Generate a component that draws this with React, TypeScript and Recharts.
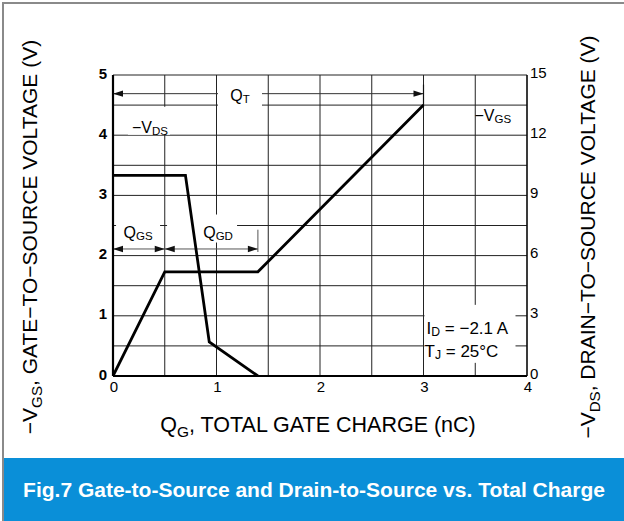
import React from 'react';
import { LineChart, Line, XAxis, YAxis, CartesianGrid, ReferenceDot } from 'recharts';

// ---- axis ticks ----
const chargeTicks = [0, 0.5, 1, 1.5, 2, 2.5, 3, 3.5, 4];
const vgsTicks = [0, 0.5, 1, 1.5, 2, 2.5, 3, 3.5, 4, 4.5, 5];
const vdsTicks = [0, 3, 6, 9, 12, 15];

// ---- series: -VGS (left axis) ----
const vgsCharge = [0, 0.5, 1.4, 3.0];
const vgsVolts = [0, 1.73, 1.73, 4.5];

// ---- series: -VDS (right axis) ----
const vdsCharge = [0, 0.7, 0.93, 1.4];
const vdsVolts = [10, 10, 1.7, 0];

// ---- annotation dimension lines (left-axis units) ----
const qtArrowCharge = [0, 3];
const qtArrowVolts = [4.69, 4.69];
const qtTickCharge = [3, 3];
const qtTickVolts = [4.84, 4.5];
const qgsArrowCharge = [0, 0.5];
const qgsArrowVolts = [2.11, 2.11];
const qgdArrowCharge = [0.5, 1.4];
const qgdArrowVolts = [2.11, 2.11];
const qgdTickCharge = [1.4, 1.4];
const qgdTickVolts = [2.43, 2.06];

const zip = (qs: number[], vs: number[]) => qs.map((q, i) => ({ q, v: vs[i] }));

const vgsData = zip(vgsCharge, vgsVolts);
const vdsData = zip(vdsCharge, vdsVolts);
const qtArrow = zip(qtArrowCharge, qtArrowVolts);
const qtTick = zip(qtTickCharge, qtTickVolts);
const qgsArrow = zip(qgsArrowCharge, qgsArrowVolts);
const qgdArrow = zip(qgdArrowCharge, qgdArrowVolts);
const qgdTick = zip(qgdTickCharge, qgdTickVolts);

const FONT = '"Liberation Sans", Arial, Helvetica, sans-serif';

const arrowDot = (dirs: string[]) => (props: any) => {
  const { cx, cy, index } = props;
  const d = dirs[index];
  if (!d || cx == null) return <g key={`a${index}`} />;
  const L = 10, H = 3.2;
  const path =
    d === 'left'
      ? `M${cx},${cy} L${cx + L},${cy - H} L${cx + L},${cy + H} Z`
      : `M${cx},${cy} L${cx - L},${cy - H} L${cx - L},${cy + H} Z`;
  return <path key={`a${index}`} d={path} fill="#111" stroke="none" />;
};

type Part = { t: string; sub?: boolean };

const renderParts = (parts: Part[], size: number) => {
  const out: React.ReactNode[] = [];
  let shifted = false;
  parts.forEach((p, i) => {
    if (p.sub) {
      out.push(
        <tspan key={i} fontSize={size * 0.72} dy={shifted ? 0 : size * 0.25}>
          {p.t}
        </tspan>
      );
      shifted = true;
    } else {
      out.push(
        <tspan key={i} fontSize={size} dy={shifted ? -size * 0.25 : 0}>
          {p.t}
        </tspan>
      );
      shifted = false;
    }
  });
  return out;
};

const boxLabel =
  (parts: Part[], box: { x: number; y: number; w: number; h: number } | null, size = 16) =>
  (props: any) => {
    const { cx, cy } = props;
    return (
      <g>
        {box && <rect x={cx + box.x} y={cy + box.y} width={box.w} height={box.h} fill="#fff" />}
        <text x={cx} y={cy} textAnchor="middle" dominantBaseline="central" fontFamily={FONT} fill="#000" fontSize={size}>
          {renderParts(parts, size)}
        </text>
      </g>
    );
  };

const condLabel = (props: any) => {
  const { cx, cy } = props;
  const s = 17;
  return (
    <g>
      <rect x={cx + 1} y={cy - 23} width={91} height={58} fill="#fff" />
      <text x={cx + 3} y={cy} dominantBaseline="central" fontFamily={FONT} fill="#000" fontSize={s}>
        {renderParts([{ t: 'I' }, { t: 'D', sub: true }, { t: ' = −2.1 A' }], s)}
      </text>
      <text x={cx + 1} y={cy + 23} dominantBaseline="central" fontFamily={FONT} fill="#000" fontSize={s}>
        {renderParts([{ t: 'T' }, { t: 'J', sub: true }, { t: ' = 25°C' }], s)}
      </text>
    </g>
  );
};

const XTick = (props: any) => {
  const { x, y, payload } = props;
  if (!Number.isInteger(payload.value)) return <g />;
  return (
    <text x={x + 1} y={y + 10} textAnchor="middle" dominantBaseline="central" fontFamily={FONT} fontSize={15} fill="#000">
      {payload.value}
    </text>
  );
};

const LeftTick = (props: any) => {
  const { x, y, payload } = props;
  if (!Number.isInteger(payload.value)) return <g />;
  return (
    <text x={x - 6} y={y - 2} textAnchor="end" dominantBaseline="central" fontFamily={FONT} fontSize={15} fontWeight="bold" fill="#000">
      {payload.value}
    </text>
  );
};

const RightTick = (props: any) => {
  const { x, y, payload } = props;
  return (
    <text x={x + 3} y={y - 3} textAnchor="start" dominantBaseline="central" fontFamily={FONT} fontSize={15} fill="#000">
      {payload.value}
    </text>
  );
};

export default function App() {
  return (
    <div style={{ position: 'absolute', left: 0, top: 0, width: 624, height: 521, background: '#fff', overflow: 'hidden' }}>
      <div
        style={{
          position: 'absolute',
          left: 2,
          top: 2,
          width: 622,
          height: 519,
          borderLeft: '2px solid #8a8a8a',
          borderTop: '2px solid #8a8a8a',
          boxSizing: 'border-box',
        }}
      />
      <div style={{ position: 'absolute', left: 0, top: 0 }}>
        <LineChart width={624} height={458} margin={{ top: 75, left: 53, right: 37, bottom: 52 }}>
          <CartesianGrid yAxisId="left" stroke="#222" strokeWidth={1} />
          <XAxis
            type="number"
            dataKey="q"
            domain={[0, 4]}
            ticks={chargeTicks}
            interval={0}
            height={30}
            tickSize={0}
            tickMargin={0}
            tickLine={false}
            axisLine={{ stroke: '#000', strokeWidth: 2.2 }}
            tick={<XTick />}
            allowDataOverflow
          />
          <YAxis
            yAxisId="left"
            type="number"
            domain={[0, 5]}
            ticks={vgsTicks}
            interval={0}
            width={60}
            tickSize={0}
            tickMargin={0}
            tickLine={false}
            axisLine={{ stroke: '#000', strokeWidth: 2.2 }}
            tick={<LeftTick />}
            allowDataOverflow
          />
          <YAxis
            yAxisId="right"
            orientation="right"
            type="number"
            domain={[0, 15]}
            ticks={vdsTicks}
            interval={0}
            width={60}
            tickSize={0}
            tickMargin={0}
            tickLine={false}
            axisLine={{ stroke: '#000', strokeWidth: 1.2 }}
            tick={<RightTick />}
            allowDataOverflow
          />

          <Line zIndex={200} yAxisId="left" data={qtArrow} dataKey="v" stroke="#333" strokeWidth={1} dot={arrowDot(['left', 'right'])} activeDot={false} isAnimationActive={false} />
          <Line zIndex={200} yAxisId="left" data={qtTick} dataKey="v" stroke="#111" strokeWidth={1.2} dot={false} activeDot={false} isAnimationActive={false} />
          <Line zIndex={200} yAxisId="left" data={qgsArrow} dataKey="v" stroke="#555" strokeWidth={1} dot={arrowDot(['left', 'right'])} activeDot={false} isAnimationActive={false} />
          <Line zIndex={200} yAxisId="left" data={qgdArrow} dataKey="v" stroke="#555" strokeWidth={1} dot={arrowDot(['left', 'right'])} activeDot={false} isAnimationActive={false} />
          <Line zIndex={200} yAxisId="left" data={qgdTick} dataKey="v" stroke="#555" strokeWidth={1} dot={false} activeDot={false} isAnimationActive={false} />

          <Line zIndex={400} yAxisId="left" data={vgsData} dataKey="v" stroke="#000" strokeWidth={2.8} dot={false} activeDot={false} isAnimationActive={false} />
          <Line zIndex={400} yAxisId="right" data={vdsData} dataKey="v" stroke="#000" strokeWidth={2.8} dot={false} activeDot={false} isAnimationActive={false} />

          <ReferenceDot zIndex={300} yAxisId="left" x={1.227} y={4.67} shape={boxLabel([{ t: 'Q' }, { t: 'T', sub: true }], { x: -22, y: -11, w: 44, h: 23 })} />
          <ReferenceDot zIndex={300} yAxisId="left" x={0.357} y={4.14} shape={boxLabel([{ t: '−V' }, { t: 'DS', sub: true }], { x: -22, y: -20, w: 42, h: 28 })} />
          <ReferenceDot zIndex={300} yAxisId="left" x={3.67} y={4.34} shape={boxLabel([{ t: '−V' }, { t: 'GS', sub: true }], null)} />
          <ReferenceDot zIndex={300} yAxisId="left" x={0.242} y={2.4} shape={boxLabel([{ t: 'Q' }, { t: 'GS', sub: true }], { x: -22, y: -17, w: 44, h: 28 })} />
          <ReferenceDot zIndex={300} yAxisId="left" x={1.015} y={2.4} shape={boxLabel([{ t: 'Q' }, { t: 'GD', sub: true }], { x: -51, y: -17, w: 70, h: 28 })} />
          <ReferenceDot zIndex={300} yAxisId="left" x={3.0} y={0.8} shape={condLabel} />
        </LineChart>
      </div>
      <svg width={624} height={458} style={{ position: 'absolute', left: 0, top: 0, pointerEvents: 'none' }}>
        <text x={318} y={432} textAnchor="middle" fontFamily={FONT} fontSize={21.5} fill="#000">
          {renderParts([{ t: 'Q' }, { t: 'G', sub: true }, { t: ', TOTAL GATE CHARGE (nC)' }], 21.5)}
        </text>
        <text transform="translate(37,237) rotate(-90)" textAnchor="middle" fontFamily={FONT} fontSize={21} fill="#000">
          {renderParts([{ t: '−V' }, { t: 'GS', sub: true }, { t: ', GATE−TO−SOURCE VOLTAGE (V)' }], 21)}
        </text>
        <text transform="translate(595,237) rotate(-90)" textAnchor="middle" fontFamily={FONT} fontSize={21} fill="#000">
          {renderParts([{ t: '−V' }, { t: 'DS', sub: true }, { t: ', DRAIN−TO−SOURCE VOLTAGE (V)' }], 21)}
        </text>
      </svg>
      <div
        style={{
          position: 'absolute',
          left: 4,
          top: 458,
          width: 620,
          height: 63,
          background: '#0a8fd8',
          color: '#fff',
          fontFamily: FONT,
          fontWeight: 'bold',
          fontSize: 21,
          lineHeight: '63px',
          textAlign: 'center',
          whiteSpace: 'nowrap',
        }}
      >
        Fig.7 Gate-to-Source and Drain-to-Source vs. Total Charge
      </div>
    </div>
  );
}
